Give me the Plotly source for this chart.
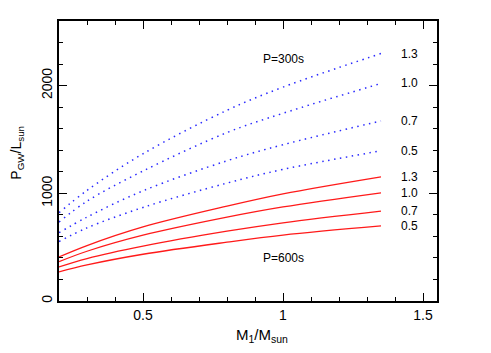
import plotly.graph_objects as go

# M1 / Msun sample points
m1 = [0.2, 0.3, 0.5, 0.8, 1.0, 1.35]

# P = 600 s (solid red), one curve per M2 label
red_13 = [409, 515, 688, 881, 995, 1153]
red_10 = [365, 462, 611, 779, 874, 1005]
red_07 = [316, 394, 509, 648, 726, 834]
red_05 = [270, 335, 434, 546, 612, 697]

# P = 300 s (dotted blue)
blue_13 = [820, 1027, 1367, 1771, 1986, 2298]
blue_10 = [733, 927, 1207, 1564, 1743, 2020]
blue_07 = [634, 779, 1023, 1302, 1451, 1672]
blue_05 = [552, 679, 869, 1095, 1222, 1395]

labels = ['1.3', '1.0', '0.7', '0.5']

font = 'Liberation Sans, Arial, sans-serif'

fig = go.Figure()
for ys in [blue_13, blue_10, blue_07, blue_05]:
    fig.add_trace(go.Scatter(x=m1, y=ys, mode='lines',
                             line=dict(color='#2a2aff', width=1.5, dash='1.5px,4.5px', shape='spline')))
for ys in [red_13, red_10, red_07, red_05]:
    fig.add_trace(go.Scatter(x=m1, y=ys, mode='lines',
                             line=dict(color='#ff1a1a', width=1.3, shape='spline')))

# curve labels at the right end
for lab, ys in zip(labels, [blue_13, blue_10, blue_07, blue_05]):
    fig.add_annotation(x=1.415, y=ys[-1], text=lab, showarrow=False, xanchor='left',
                       font=dict(size=12, color='black', family=font))
for lab, ys in zip(labels, [red_13, red_10, red_07, red_05]):
    fig.add_annotation(x=1.415, y=ys[-1], text=lab, showarrow=False, xanchor='left',
                       font=dict(size=12, color='black', family=font))

fig.add_annotation(x=1.0, y=2250, text='P=300s', showarrow=False,
                   font=dict(size=12, color='black', family=font))
fig.add_annotation(x=1.0, y=400, text='P=600s', showarrow=False,
                   font=dict(size=12, color='black', family=font))

# axis titles
fig.add_annotation(xref='paper', yref='paper', x=0.537, y=-0.123, xanchor='center', yanchor='middle',
                   text='M<sub>1</sub>/M<sub>sun</sub>',
                   showarrow=False, font=dict(size=15, color='black', family=font))
fig.add_annotation(xref='paper', yref='paper', x=-0.111, y=0.53, xanchor='center', yanchor='middle',
                   text='P<sub>GW</sub>/L<sub>sun</sub>',
                   textangle=-90, showarrow=False, font=dict(size=14, color='black', family=font))

axis_style = dict(showline=True, linecolor='black', linewidth=1.5, mirror='allticks',
                  ticks='inside', ticklen=8, tickwidth=1.2, tickcolor='black',
                  showgrid=False, zeroline=False, automargin=False,
                  tickfont=dict(size=14, color='black', family=font))

# page body has an 8px margin, so margins are shifted to keep the frame in place
fig.update_layout(
    width=491, height=353,
    margin=dict(l=51, r=62, t=13, b=60),
    paper_bgcolor='white', plot_bgcolor='white',
    showlegend=False,
    font=dict(family=font, color='black'),
    xaxis=dict(range=[0.2, 1.55], tickmode='linear', tick0=0, dtick=0.5,
               minor=dict(ticks='inside', dtick=0.1, ticklen=4, tickcolor='black', tickwidth=1.2),
               **axis_style),
    yaxis=dict(range=[0, 2600], tickmode='linear', tick0=0, dtick=1000, tickangle=-90,
               minor=dict(ticks='inside', dtick=200, ticklen=4, tickcolor='black', tickwidth=1.2),
               **axis_style),
)

fig.write_html("out.html")
